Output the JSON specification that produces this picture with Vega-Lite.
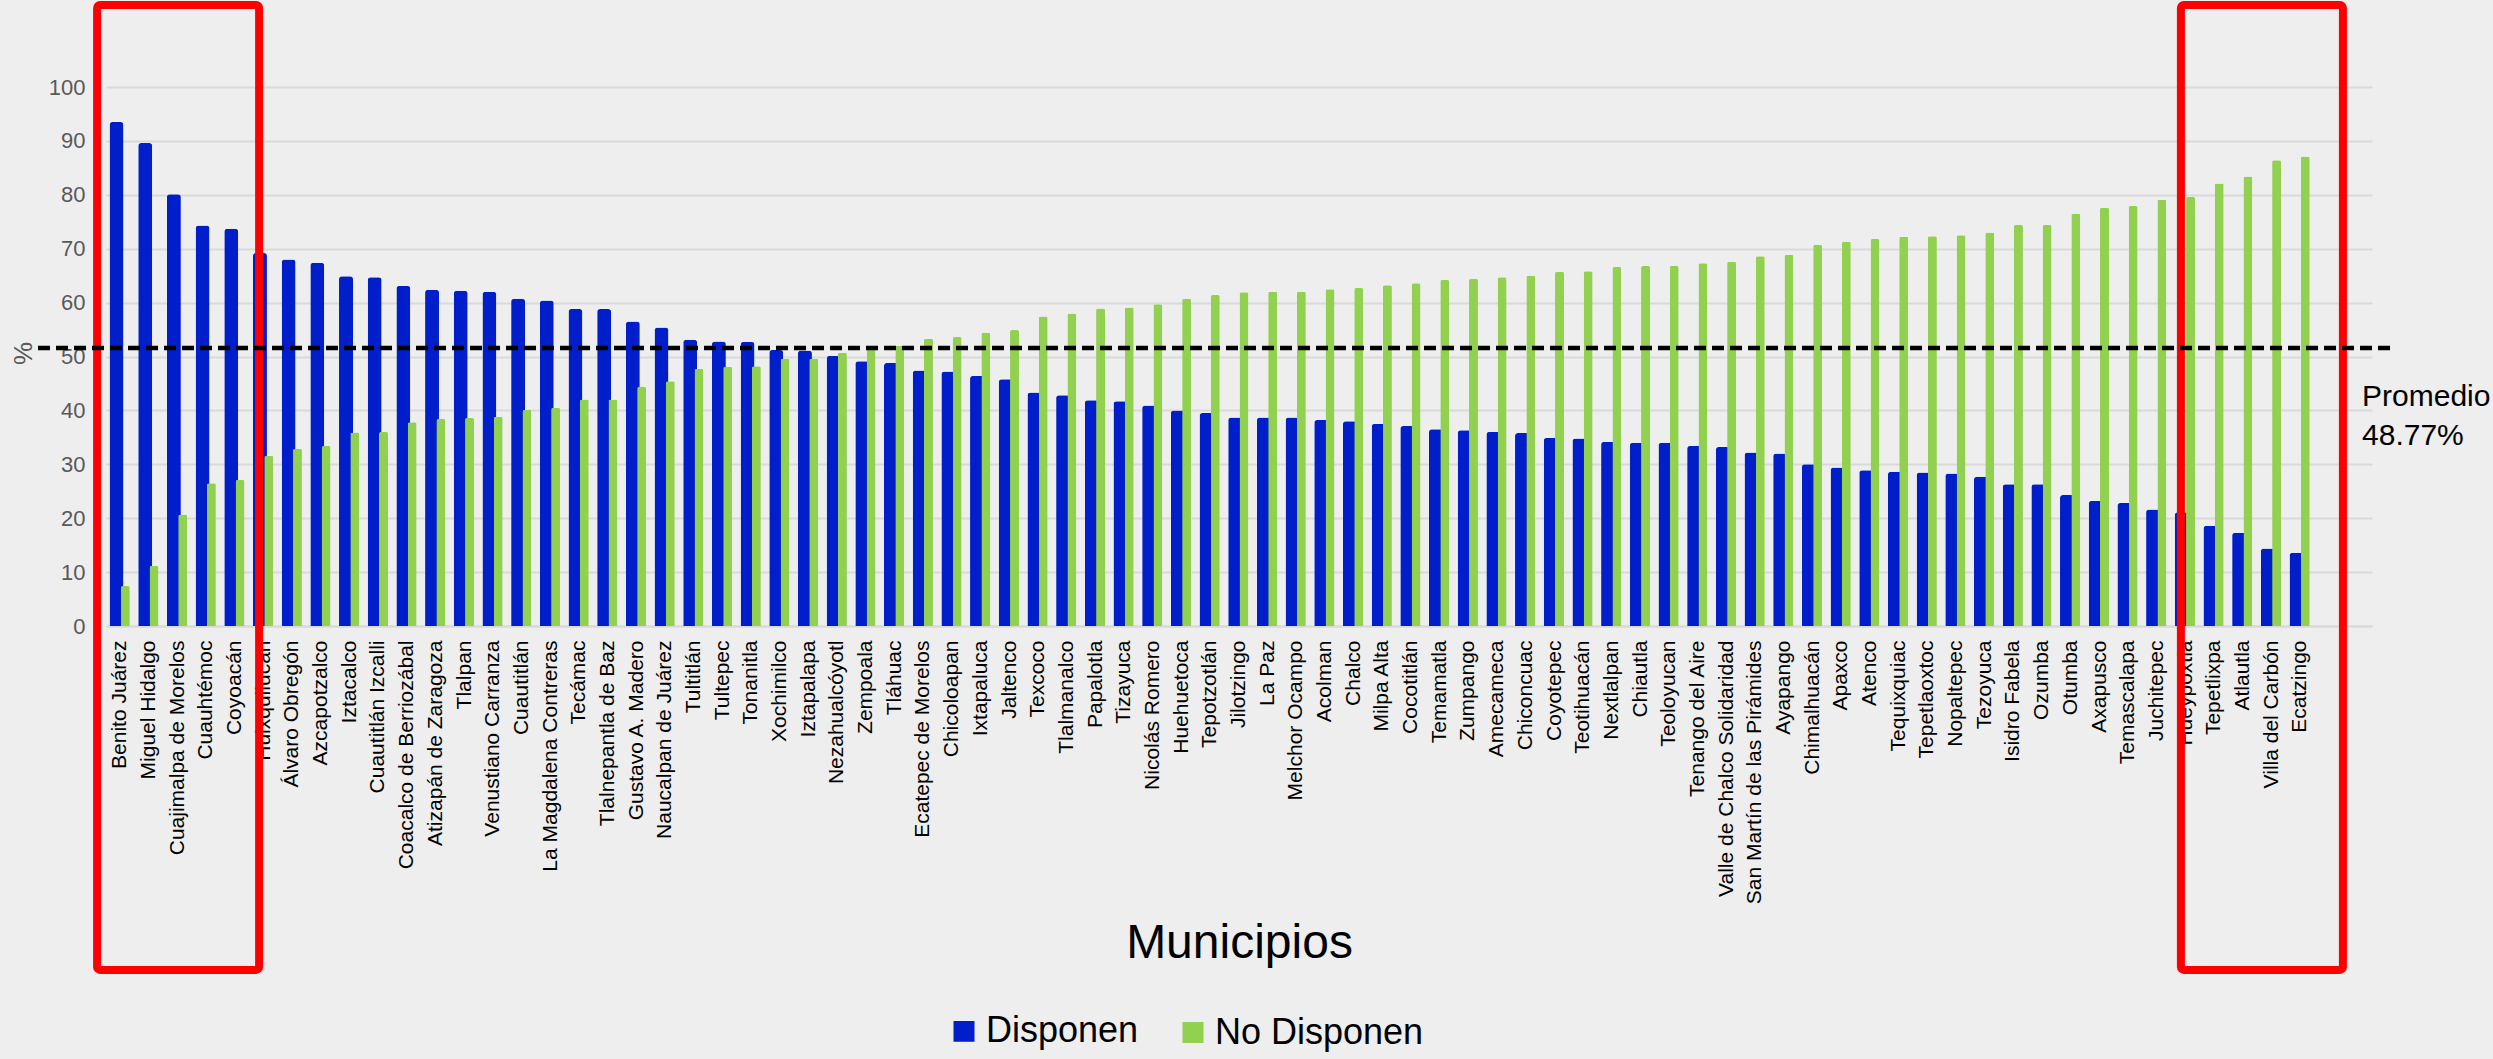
{
  "$schema": "https://vega.github.io/schema/vega-lite/v6.json",
  "width": 2266,
  "height": 539,
  "autosize": "none",
  "padding": {"left": 106, "top": 87, "right": 121, "bottom": 433},
  "background": "#EEEEEE",
  "config": {"view": {"stroke": null}, "font": "Liberation Sans"},
  "datasets": {
    "municipios": [
      {"m": "Benito Juárez", "d": 93.5, "n": 7.4},
      {"m": "Miguel Hidalgo", "d": 89.6, "n": 11.2},
      {"m": "Cuajimalpa de Morelos", "d": 80.1, "n": 20.7},
      {"m": "Cuauhtémoc", "d": 74.3, "n": 26.5},
      {"m": "Coyoacán", "d": 73.7, "n": 27.1},
      {"m": "Huixquilucan", "d": 69.2, "n": 31.6},
      {"m": "Álvaro Obregón", "d": 68.0, "n": 32.9},
      {"m": "Azcapotzalco", "d": 67.4, "n": 33.4},
      {"m": "Iztacalco", "d": 64.9, "n": 35.9},
      {"m": "Cuautitlán Izcalli", "d": 64.7, "n": 36.0},
      {"m": "Coacalco de Berriozábal", "d": 63.1, "n": 37.8},
      {"m": "Atizapán de Zaragoza", "d": 62.4, "n": 38.4},
      {"m": "Tlalpan", "d": 62.2, "n": 38.6},
      {"m": "Venustiano Carranza", "d": 62.0, "n": 38.8},
      {"m": "Cuautitlán", "d": 60.7, "n": 40.1},
      {"m": "La Magdalena Contreras", "d": 60.4, "n": 40.5},
      {"m": "Tecámac", "d": 58.8, "n": 42.0},
      {"m": "Tlalnepantla de Baz", "d": 58.8, "n": 42.0},
      {"m": "Gustavo A. Madero", "d": 56.5, "n": 44.4},
      {"m": "Naucalpan de Juárez", "d": 55.4, "n": 45.4},
      {"m": "Tultitlán", "d": 53.1, "n": 47.7},
      {"m": "Tultepec", "d": 52.8, "n": 48.1},
      {"m": "Tonanitla", "d": 52.7, "n": 48.2},
      {"m": "Xochimilco", "d": 51.2, "n": 49.6},
      {"m": "Iztapalapa", "d": 51.1, "n": 49.6},
      {"m": "Nezahualcóyotl", "d": 50.1, "n": 50.7},
      {"m": "Zempoala", "d": 49.1, "n": 51.7},
      {"m": "Tláhuac", "d": 48.8, "n": 52.0},
      {"m": "Ecatepec de Morelos", "d": 47.4, "n": 53.3},
      {"m": "Chicoloapan", "d": 47.2, "n": 53.6},
      {"m": "Ixtapaluca", "d": 46.4, "n": 54.4},
      {"m": "Jaltenco", "d": 45.8, "n": 54.9},
      {"m": "Texcoco", "d": 43.3, "n": 57.4},
      {"m": "Tlalmanalco", "d": 42.8, "n": 58.0},
      {"m": "Papalotla", "d": 41.9, "n": 58.9},
      {"m": "Tizayuca", "d": 41.7, "n": 59.1},
      {"m": "Nicolás Romero", "d": 40.9, "n": 59.7},
      {"m": "Huehuetoca", "d": 40.0, "n": 60.7},
      {"m": "Tepotzotlán", "d": 39.5, "n": 61.4},
      {"m": "Jilotzingo", "d": 38.7, "n": 61.9},
      {"m": "La Paz", "d": 38.7, "n": 62.0},
      {"m": "Melchor Ocampo", "d": 38.7, "n": 62.0},
      {"m": "Acolman", "d": 38.2, "n": 62.5},
      {"m": "Chalco", "d": 38.0, "n": 62.7},
      {"m": "Milpa Alta", "d": 37.5, "n": 63.2},
      {"m": "Cocotitlán", "d": 37.1, "n": 63.6},
      {"m": "Temamatla", "d": 36.5, "n": 64.2},
      {"m": "Zumpango", "d": 36.3, "n": 64.4},
      {"m": "Amecameca", "d": 36.0, "n": 64.7},
      {"m": "Chiconcuac", "d": 35.8, "n": 65.0},
      {"m": "Coyotepec", "d": 34.9, "n": 65.7},
      {"m": "Teotihuacán", "d": 34.8, "n": 65.8},
      {"m": "Nextlalpan", "d": 34.2, "n": 66.6},
      {"m": "Chiautla", "d": 34.0, "n": 66.8},
      {"m": "Teoloyucan", "d": 34.0, "n": 66.8},
      {"m": "Tenango del Aire", "d": 33.4, "n": 67.3},
      {"m": "Valle de Chalco Solidaridad", "d": 33.2, "n": 67.6},
      {"m": "San Martín de las Pirámides", "d": 32.2, "n": 68.6},
      {"m": "Ayapango", "d": 32.0, "n": 68.9},
      {"m": "Chimalhuacán", "d": 30.0, "n": 70.7},
      {"m": "Apaxco", "d": 29.4, "n": 71.3},
      {"m": "Atenco", "d": 28.9, "n": 71.8},
      {"m": "Tequixquiac", "d": 28.6, "n": 72.2},
      {"m": "Tepetlaoxtoc", "d": 28.5, "n": 72.3},
      {"m": "Nopaltepec", "d": 28.3, "n": 72.5},
      {"m": "Tezoyuca", "d": 27.7, "n": 73.0},
      {"m": "Isidro Fabela", "d": 26.3, "n": 74.4},
      {"m": "Ozumba", "d": 26.3, "n": 74.4},
      {"m": "Otumba", "d": 24.3, "n": 76.5},
      {"m": "Axapusco", "d": 23.2, "n": 77.6},
      {"m": "Temascalapa", "d": 22.8, "n": 77.9},
      {"m": "Juchitepec", "d": 21.6, "n": 79.1},
      {"m": "Hueypoxtla", "d": 21.1, "n": 79.6},
      {"m": "Tepetlixpa", "d": 18.6, "n": 82.1},
      {"m": "Atlautla", "d": 17.3, "n": 83.4},
      {"m": "Villa del Carbón", "d": 14.4, "n": 86.4},
      {"m": "Ecatzingo", "d": 13.6, "n": 87.1}
    ]
  },
  "layer": [
    {
      "layer": [
        {
          "data": {"name": "municipios"},
          "mark": {"type": "bar", "width": 14, "xOffset": -3.8, "cornerRadiusTopLeft": 3, "cornerRadiusTopRight": 3},
          "encoding": {
            "x": {
              "field": "m", "type": "nominal", "sort": null,
              "scale": {"paddingInner": 0, "paddingOuter": 1.035, "align": 0},
              "axis": {
                "title": "Municipios", "labelAngle": -90, "labelFontSize": 21, "labelColor": "black",
                "labelPadding": 14, "labelLimit": 500, "ticks": false, "domainColor": "#D9D9D9", "domainWidth": 2,
                "titleFontSize": 48, "titleFontWeight": "normal", "titleColor": "black",
                "titleY": 317, "titleBaseline": "middle"
              }
            },
            "y": {
              "field": "d", "type": "quantitative", "title": "%",
              "scale": {"domain": [0, 100], "nice": false},
              "axis": {
                "values": [0, 10, 20, 30, 40, 50, 60, 70, 80, 90, 100],
                "labelFontSize": 22, "labelColor": "#595959", "labelPadding": 21, "ticks": false, "domain": false,
                "gridColor": "#D9D9D9", "gridWidth": 2,
                "titleFontSize": 26, "titleColor": "#595959", "titleFontWeight": "normal",
                "titleX": -83, "titleY": 266, "titleBaseline": "middle"
              }
            },
            "color": {
              "datum": "Disponen", "type": "nominal",
              "scale": {"domain": ["Disponen", "No Disponen"], "range": ["#001FCB", "#92D050"]},
              "legend": {
                "orient": "none", "legendX": 840, "legendY": 926, "direction": "horizontal", "title": null,
                "labelFontSize": 36, "labelColor": "black", "labelLimit": 0, "symbolType": "square", "symbolSize": 441,
                "symbolStrokeWidth": 0, "columnPadding": 36, "labelOffset": 4, "padding": 0,
                "encode": {
                  "symbols": {
                    "update": {
                      "fill": {"signal": "datum.value === 'Disponen' ? '#0A1A78' : '#92D050'"},
                      "stroke": {"signal": "datum.value === 'Disponen' ? '#001FCB' : '#92D050'"},
                      "strokeWidth": {"signal": "datum.value === 'Disponen' ? 6.5 : 0"},
                      "size": {"signal": "datum.value === 'Disponen' ? 210 : 441"}
                    }
                  }
                }
              }
            }
          }
        },
        {
          "data": {"name": "municipios"},
          "mark": {"type": "bar", "width": 9, "xOffset": 5, "cornerRadiusTopLeft": 2, "cornerRadiusTopRight": 2},
          "encoding": {
            "x": {"field": "m", "type": "nominal", "sort": null},
            "y": {"field": "n", "type": "quantitative", "title": "%"},
            "color": {"datum": "No Disponen", "type": "nominal"}
          }
        },
        {
          "data": {"values": [{}]},
          "mark": {"type": "rect", "filled": false, "stroke": "#FF0000", "strokeWidth": 8, "width": 162, "xOffset": 0.4, "cornerRadius": 3},
          "encoding": {
            "x": {"datum": "Cuajimalpa de Morelos", "type": "nominal"},
            "y": {"datum": 115.2, "type": "quantitative"},
            "y2": {"datum": -63.8}
          }
        },
        {
          "data": {"values": [{}]},
          "mark": {"type": "rect", "filled": false, "stroke": "#FF0000", "strokeWidth": 8, "width": 162, "xOffset": -9.7, "cornerRadius": 3},
          "encoding": {
            "x": {"datum": "Villa del Carbón", "type": "nominal"},
            "y": {"datum": 115.2, "type": "quantitative"},
            "y2": {"datum": -63.8}
          }
        }
      ]
    },
    {
      "data": {"values": [{}]},
      "mark": {"type": "rule", "strokeDash": [12, 6], "strokeWidth": 4.5, "color": "black"},
      "encoding": {
        "x": {"datum": -0.03, "type": "quantitative", "scale": {"domain": [0, 1]}, "axis": null},
        "x2": {"datum": 1.0088},
        "y": {"datum": 51.6, "type": "quantitative"}
      }
    },
    {
      "data": {"values": [{}]},
      "mark": {"type": "text", "align": "left", "baseline": "middle", "fontSize": 30, "lineHeight": 39, "color": "black"},
      "encoding": {
        "x": {"datum": 0.9956, "type": "quantitative", "scale": {"domain": [0, 1]}, "axis": null},
        "y": {"datum": 42.4, "type": "quantitative"},
        "text": {"value": ["Promedio", "48.77%"]}
      }
    }
  ],
  "resolve": {"scale": {"x": "independent"}}
}
